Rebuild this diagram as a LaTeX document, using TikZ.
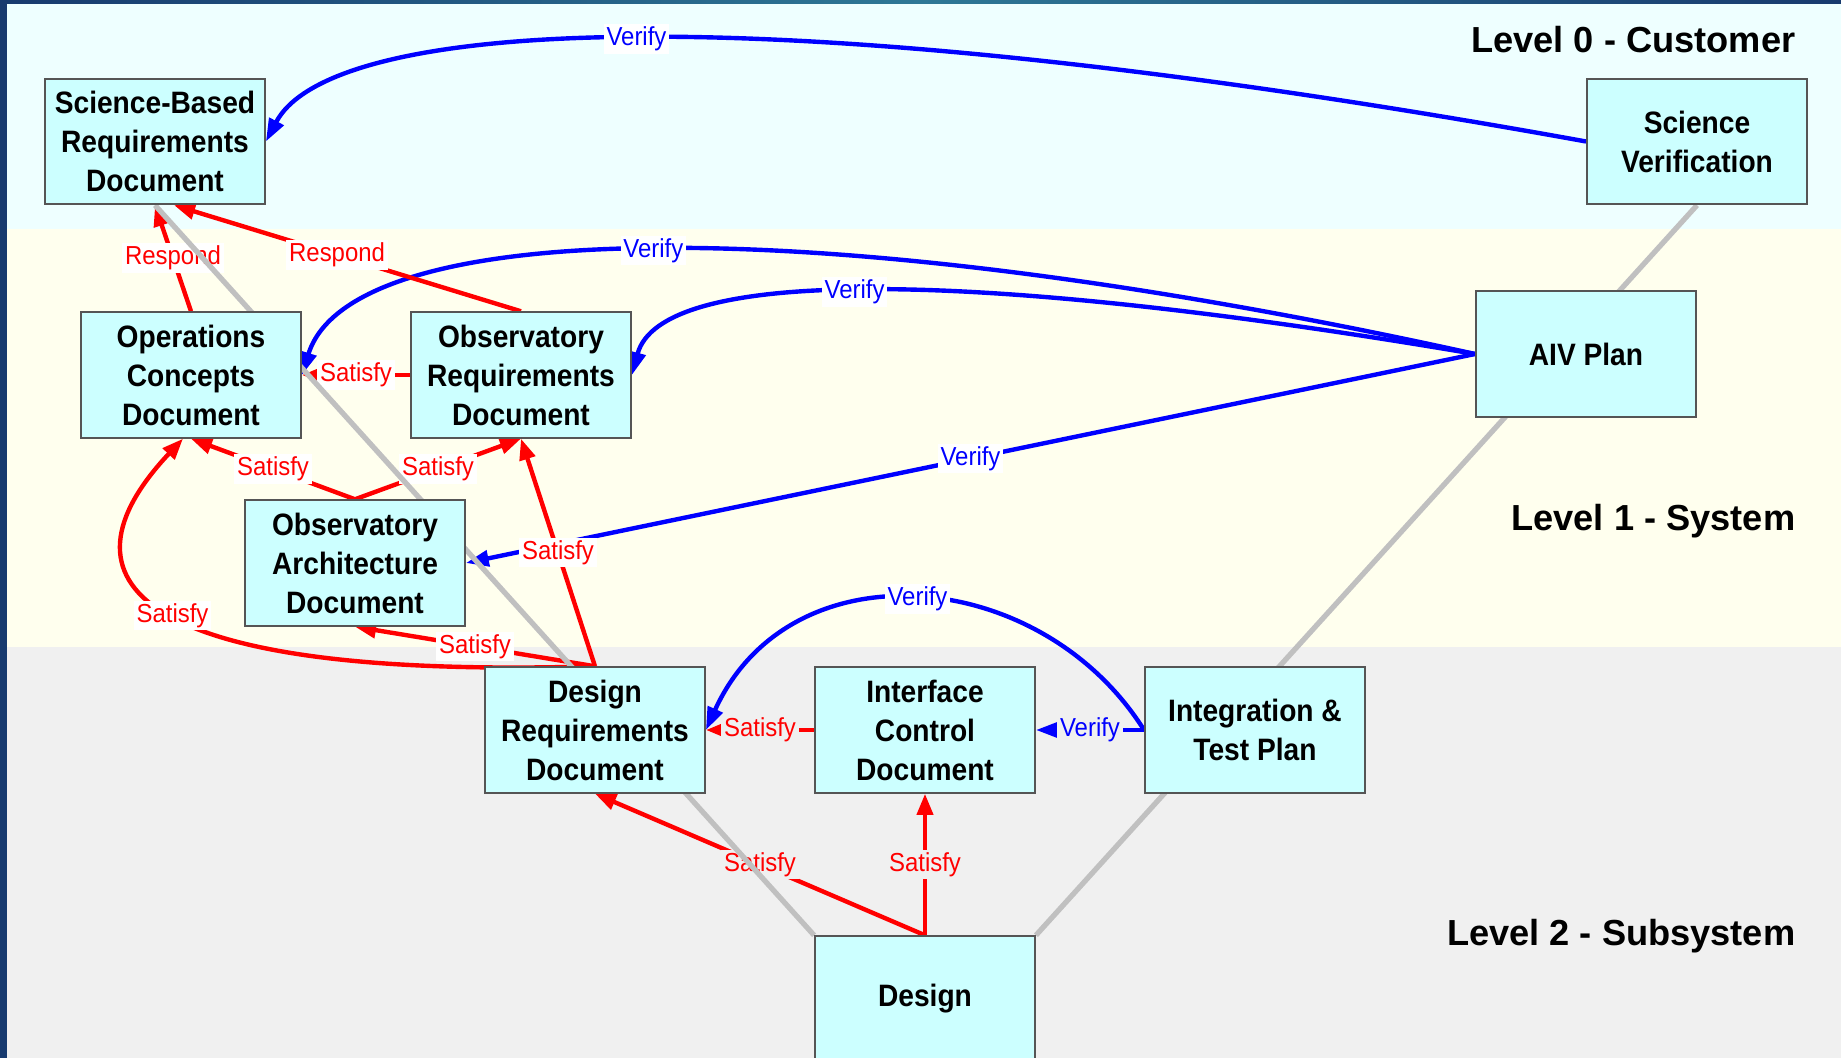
\documentclass[tikz,border=0pt]{standalone}
\usepackage{fontspec}
\setmainfont{Liberation Sans}
\newfontfamily\boxfont[FakeStretch=0.91]{Liberation Sans}
\newfontfamily\tagfont[FakeStretch=0.92]{Liberation Sans}
\usetikzlibrary{arrows.meta}
\definecolor{bandcyan}{HTML}{EEFFFF}
\definecolor{bandyellow}{HTML}{FFFFEE}
\definecolor{bandgray}{HTML}{F0F0F0}
\definecolor{framedark}{HTML}{173A6E}
\definecolor{frameteal}{HTML}{2E7896}
\definecolor{boxfill}{HTML}{CCFFFF}
\definecolor{boxline}{HTML}{555555}
\definecolor{satred}{HTML}{FF0000}
\definecolor{verblue}{HTML}{0000FF}
\definecolor{veegray}{HTML}{C0C0C0}
\pgfdeclarelayer{bands}
\pgfdeclarelayer{vee}
\pgfdeclarelayer{boxes}
\pgfsetlayers{bands,main,vee,boxes}
\begin{document}
\begin{tikzpicture}[x=0.01cm,y=-0.01cm,
    doc/.style={draw=boxline,fill=boxfill,line width=0.5pt,minimum width=2.2cm,minimum height=1.256cm,
        inner sep=0pt,align=center,font=\boxfont\bfseries\fontsize{8.8}{11.1}\selectfont},
    level/.style={anchor=east,inner sep=0pt,font=\bfseries\fontsize{10.3}{12}\selectfont},
    sat/.style={draw=satred,line width=1.25pt,-{Triangle[length=6pt,width=4.5pt]}},
    ver/.style={draw=verblue,line width=1.25pt,-{Triangle[length=6.5pt,width=4.5pt]}},
    tag/.style={fill=white,inner sep=0.8pt,font=\tagfont\fontsize{7.4}{8}\selectfont},
    stag/.style={tag,text=satred},
    vtag/.style={tag,text=verblue},
    vee/.style={draw=veegray,line width=1.5pt}]
    \useasboundingbox (0,0) rectangle (1841,1058);

    % Fondo
    \begin{pgfonlayer}{bands}
        \fill[bandcyan] (0,0) rectangle (1841,229);
        \fill[bandyellow] (0,229) rectangle (1841,647);
        \fill[bandgray] (0,647) rectangle (1841,1058);
        \shade[left color=framedark,right color=framedark,middle color=frameteal] (0,0) rectangle (1841,4);
        \fill[framedark] (0,0) rectangle (7,1058);
    \end{pgfonlayer}

    % Niveles
    \node[level] (lvl0) at (1796,40) {Level 0 - Customer};
    \node[level] (lvl1) at (1796,521) {Level 1 - System};
    \node[level] (lvl2) at (1796,936) {Level 2 - Subsystem};

    % Documentos
    \begin{pgfonlayer}{boxes}
        \node[doc] (sbrd) at (155,141.5) {Science-Based\\Requirements\\Document};
        \node[doc] (sv) at (1697,141.5) {Science\\Verification};
        \node[doc] (ocd) at (191,375) {Operations\\Concepts\\Document};
        \node[doc] (ord) at (521,375) {Observatory\\Requirements\\Document};
        \node[doc] (aiv) at (1586,354) {AIV Plan};
        \node[doc] (oad) at (355,563) {Observatory\\Architecture\\Document};
        \node[doc] (drd) at (595,730) {Design\\Requirements\\Document};
        \node[doc] (icd) at (925,730) {Interface\\Control\\Document};
        \node[doc] (itp) at (1255,730) {Integration \&\\Test Plan};
        \node[doc] (design) at (925,999) {Design};
    \end{pgfonlayer}

    % Linea V
    \begin{pgfonlayer}{vee}
        \draw[vee] (sbrd.south) -- (design.north west);
        \draw[vee] (design.north east) -- (sv.south);
    \end{pgfonlayer}

    % Verify
    \draw[ver] (sv.west) .. controls (750,-10) and (330,20) .. (sbrd.east) node[vtag,pos=0.5] {Verify};
    \draw[ver] (aiv.west) .. controls (800,205) and (350,220) .. (ocd.east) node[vtag,pos=0.5] {Verify};
    \draw[ver] (aiv.west) .. controls (950,265) and (660,270) .. (ord.east) node[vtag,pos=0.515] {Verify};
    \draw[ver] (aiv.west) -- (oad.east) node[vtag,midway] {Verify};
    \draw[ver] (itp.west) .. controls (1040,565) and (790,545) .. (drd.east) node[vtag,pos=0.5] {Verify};
    \draw[ver] (itp.west) -- (icd.east) node[vtag,fill=bandgray,midway] {Verify};

    % Respond
    \draw[sat] (ocd.north) -- (sbrd.south) node[stag,midway] {Respond};
    \draw[sat] (ord.north) -- ([xshift=0.19cm]sbrd.south) node[stag,pos=0.53] {Respond};

    % Satisfy
    \draw[sat] (ord.west) -- (ocd.east) node[stag,midway] {Satisfy};
    \draw[sat] (oad.north) -- (ocd.south) node[stag,midway] {Satisfy};
    \draw[sat] (oad.north) -- (ord.south) node[stag,midway] {Satisfy};
    \draw[sat] (drd.north) -- (ord.south) node[stag,midway] {Satisfy};
    \draw[sat] (drd.north) -- (oad.south) node[stag,midway] {Satisfy};
    \draw[sat] (drd.north) .. controls (130,680) and (50,580) .. ([xshift=-0.08cm]ocd.south) node[stag,pos=0.48] {Satisfy};
    \draw[sat] (icd.west) -- (drd.east) node[stag,fill=bandgray,midway] {Satisfy};
    \draw[sat] (design.north) -- (drd.south) node[stag,fill=bandgray,midway] {Satisfy};
    \draw[sat] (design.north) -- (icd.south) node[stag,fill=bandgray,midway] {Satisfy};
\end{tikzpicture}
\end{document}
